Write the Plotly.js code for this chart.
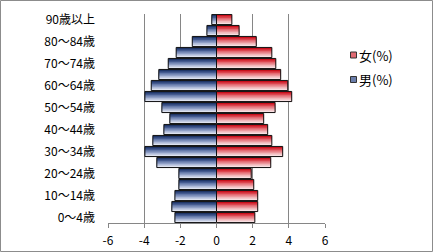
<!DOCTYPE html>
<html><head><meta charset="utf-8">
<script src="https://cdn.plot.ly/plotly-3.0.1.min.js"></script>
<style>html,body{margin:0;padding:0;background:#fff}#c{width:433px;height:252px}</style>
</head><body><div id="c"></div>
<script>
const categories = ["0～4歳","5～9歳","10～14歳","15～19歳","20～24歳","25～29歳","30～34歳","35～39歳","40～44歳","45～49歳","50～54歳","55～59歳","60～64歳","65～69歳","70～74歳","75～79歳","80～84歳","85～89歳","90歳以上"];
const male = [-2.3,-2.47,-2.3,-2.08,-2.08,-3.3,-3.96,-3.52,-2.91,-2.58,-3.02,-3.96,-3.61,-3.19,-2.67,-2.23,-1.34,-0.53,-0.26];
const female = [2.12,2.28,2.28,2.06,1.92,3.0,3.66,3.06,2.83,2.61,3.24,4.16,3.94,3.55,3.28,3.06,2.2,1.25,0.85];
const tickLabels = ["0～4歳","10～14歳","20～24歳","30～34歳","40～44歳","50～54歳","60～64歳","70～74歳","80～84歳","90歳以上"];
const xTicks = [-6,-4,-2,0,2,4,6];
const seriesNames = ["女(%)","男(%)"];

const blueShades = ["#1f3566","#3b5289","#6479a9","#8f9fc6","#b9c3de","#dde2ef"];
const redShades  = ["#c8101c","#d93a44","#e36a72","#ec989d","#f3c0c3","#f8dfe1"];
const W = 0.92, OFF = -0.46;
const traces = [];
function addSeries(vals, shades, name){
  const n = shades.length;
  for(let k=0;k<n;k++){
    traces.push({type:'bar', orientation:'h', x: vals, y: categories, name: name,
      width: W*(1-k/n), offset: OFF, marker:{color: shades[k], line:{width:0}},
      showlegend:false, hoverinfo:'skip'});
  }
  traces.push({type:'bar', orientation:'h', x: vals, y: categories, name: name,
    width: W, offset: OFF, marker:{color:'rgba(0,0,0,0)', line:{width:1, color:'#111'}},
    showlegend:false, hoverinfo:'skip'});
}
addSeries(male, blueShades, seriesNames[1]);
addSeries(female, redShades, seriesNames[0]);

const L=108, R=433-325, T=14, B=252-223;
const pw = 433-L-R, ph = 252-T-B;
const px = v => (v-L)/pw, py = v => (223-v)/ph;

// manual legend (swatches + text)
const legendItems = [{name:seriesNames[0], fill:'#e06a72', cy:55},{name:seriesNames[1], fill:'#6a7eab', cy:79.5}];
const shapes = [{type:'rect', xref:'paper', yref:'paper', x0:px(0.5), x1:px(432.5), y0:py(251.5), y1:py(0.5),
    line:{color:'#8c8c8c', width:1}, fillcolor:'rgba(0,0,0,0)', layer:'below'}];
const annotations = [];
legendItems.forEach(it=>{
  shapes.push({type:'rect', xref:'paper', yref:'paper', x0:px(350.5), x1:px(356.5), y0:py(it.cy+3), y1:py(it.cy-3),
    line:{color:'#333', width:1}, fillcolor:it.fill});
  annotations.push({xref:'paper', yref:'paper', x:px(358), y:py(it.cy), xanchor:'left', yanchor:'middle',
    text:it.name, showarrow:false, font:{size:13, color:'#000'}, borderpad:0});
});

const layout = {
  width:433, height:252, margin:{l:L, r:R, t:T, b:B, pad:0},
  paper_bgcolor:'#fff', plot_bgcolor:'#fff',
  barmode:'overlay', showlegend:false,
  font:{family:'"Noto Sans CJK JP", sans-serif', size:12, color:'#000'},
  xaxis:{range:[-6,6], tickvals:xTicks, ticktext:xTicks.map(String), showgrid:true, gridcolor:'#868686', gridwidth:1,
    zeroline:true, zerolinecolor:'#868686', zerolinewidth:1, showline:true, linecolor:'#868686', linewidth:1,
    ticks:'outside', ticklen:4, tickcolor:'#868686', tickfont:{size:12}, ticklabelstandoff:3, fixedrange:true},
  yaxis:{type:'category', categoryarray:categories, categoryorder:'array', range:[-0.5,18.5],
    tickvals:tickLabels, ticktext:tickLabels, showgrid:false, zeroline:false, showline:false,
    ticks:'', ticklabelstandoff:12, tickfont:{size:12}, fixedrange:true},
  shapes: shapes, annotations: annotations
};
Plotly.newPlot('c', traces, layout, {staticPlot:true, displayModeBar:false});
</script></body></html>
